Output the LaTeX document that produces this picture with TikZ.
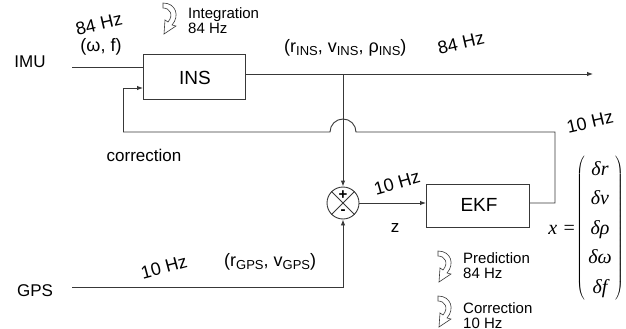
\documentclass[tikz,border=0pt]{standalone}
\usepackage{fontspec}
\setmainfont{Liberation Sans}
\newfontfamily\tms{Liberation Serif}
\usetikzlibrary{arrows.meta}
\newcommand\fs[1]{\fontsize{#1}{#1}\selectfont}
\newcommand\sbx[1]{\raisebox{-0.35ex}{\fs{13}#1}}
\newcommand\ent[1]{\mbox{\tms\itshape #1}}
\definecolor{ln}{HTML}{383838}
\tikzset{
  wire/.style={draw=ln, line width=0.9pt},
  arr/.style={wire, -{Latex[length=6pt,width=4.5pt]}},
  blk/.style={draw=ln, line width=0.9pt, fill=white},
  lbl/.style={inner sep=0pt, text=black},
  hz/.style={lbl, font=\fs{18}, rotate=13},
  icon/.style={draw=ln, line width=0.6pt, fill=white},
}
\newcommand\curvearrow[1]{%
  \path[icon, shift={#1}] (0,0) .. controls (13,0) and (17,13) .. (9,22)
    -- (13,23) -- (1,31) -- (2,17) -- (5,19)
    .. controls (11,12) and (7,5) .. (0,5) -- cycle;}
\begin{document}
\begin{tikzpicture}[x=1pt,y=-1pt]
\useasboundingbox (0,0) rectangle (626,329);
% blocks
\path[blk] (143,54) rectangle (245,99);
\node[lbl, font=\fs{19}] (ins) at (195,78) {INS};
\coordinate (insW) at (143,67);
\coordinate (insWb) at (143,88);
\coordinate (insE) at (245,74);
\path[blk] (426,184) rectangle (529,227);
\node[lbl, font=\fs{19}] (ekf) at (479,205) {EKF};
\coordinate (ekfW) at (426,203);
\coordinate (ekfE) at (529,203);
% sources
\node[lbl, font=\fs{17}] (imu) at (30,62) {IMU};
\node[lbl, font=\fs{17}] (gps) at (35,291) {GPS};
\coordinate (imuE) at (72,67);
\coordinate (gpsE) at (72,287);
% sum junction
\node[circle, draw=ln, line width=0.9pt, minimum size=32pt, inner sep=0pt] (sum) at (343,203) {};
\draw[ln, line width=0.8pt] (sum.north west) -- (sum.south east) (sum.north east) -- (sum.south west);
\node[lbl, font=\fs{15}\bfseries] at (343,195) {+};
\node[lbl, font=\fs{15}\bfseries] at (343,212) {-};
% connectors
\draw[wire] (imuE) -- (insW);
\coordinate (outEnd) at (593,74);
\draw[arr] (insE) -- (outEnd);
\coordinate (tap) at (343,74);
\draw[arr] (tap) -- (sum.north);
\coordinate (gpsTurn) at (343,287);
\draw[arr] (gpsE) -- (gpsTurn) -- (sum.south);
\draw[arr] (sum.east) -- (ekfW);
\coordinate (fbA) at (555,203);
\coordinate (fbB) at (555,132);
\coordinate (fbC) at (123,132);
\draw[wire] (ekfE) -- (fbA) -- (fbB) -- (356,132) arc[start angle=0, end angle=-180, radius=13] -- (fbC);
\draw[arr] (fbC) -- (123,88) -- (insWb);
% labels
\node[hz] at (99,24) {84 Hz};
\node[lbl, font=\fs{18}] at (101,47) {(ω, f)};
\curvearrow{(163,3)}
\node[lbl, font=\fs{15}, align=left, anchor=west] at (188,21) {Integration\\[0pt]84 Hz};
\node[lbl, font=\fs{18}, anchor=west] at (284,48) {(r\sbx{INS}, v\sbx{INS}, ρ\sbx{INS})};
\node[hz] at (461,43) {84 Hz};
\node[hz] at (590,122) {10 Hz};
\node[lbl, font=\fs{17}] at (144,155) {correction};
\node[hz, rotate=3] at (397,183) {10 Hz};
\node[lbl, font=\fs{17}] at (395,228) {z};
\node[hz, rotate=2] at (164,267) {10 Hz};
\node[lbl, font=\fs{18}, anchor=west] at (224,262) {(r\sbx{GPS}, v\sbx{GPS})};
\curvearrow{(438,251)}
\node[lbl, font=\fs{15}, align=left, anchor=west] at (463,266) {Prediction\\[0pt]84 Hz};
\curvearrow{(438,296)}
\node[lbl, font=\fs{15}, align=left, anchor=west] at (463,316) {Correction\\[0pt]10 Hz};
% state vector
\node[lbl, font=\fs{20}\tms\itshape, anchor=east] at (576,230) {x =};
\node[lbl, font=\fontsize{20}{29.5}\selectfont] (vec) at (600,228.5) {%
  $\left(\begin{array}{@{\,}c@{\,}}
  \ent{δr}\\ \ent{δv}\\ \ent{δρ}\\ \ent{δω}\\ \ent{δf}
  \end{array}\right)$};
\end{tikzpicture}
\end{document}
